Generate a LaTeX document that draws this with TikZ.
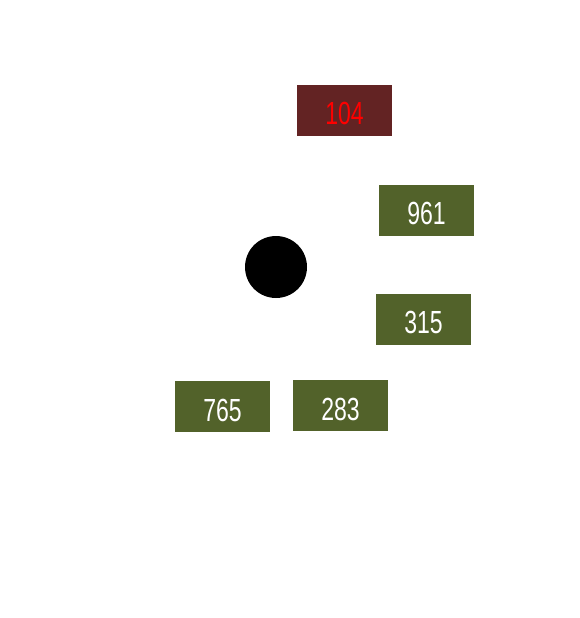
\documentclass[tikz,border=0pt]{standalone}
\usepackage{fontspec}
\usepackage{xcolor}
\newfontfamily\digitfont[FakeStretch=0.72]{Liberation Sans}
\definecolor{boxgreen}{RGB}{82,98,42}
\definecolor{boxred}{RGB}{99,35,35}
\tikzset{
  numbox/.style={draw=none,fill=boxgreen,text=white,minimum width=95pt,minimum height=51pt,inner sep=0pt,text height=29pt,text depth=0pt,font=\digitfont\fontsize{32}{32}\selectfont},
}

\begin{document}
\begin{tikzpicture}[x=1pt,y=-1pt]
    \useasboundingbox (0,0) rectangle (580,618);
    % hub
    \node[circle,fill=black,minimum size=62pt,inner sep=0pt] (hub) at (276,267) {};
    % alert box
    \node[numbox,fill=boxred,text=red] (n104) at (344.5,110) {104};
    % other boxes
    \foreach \name/\x/\y in {961/426.5/210,315/423.5/319,765/222.5/406.5,283/340.5/405.5} {\node[numbox] (n\name) at (\x,\y) {\name};}
\end{tikzpicture}
\end{document}
